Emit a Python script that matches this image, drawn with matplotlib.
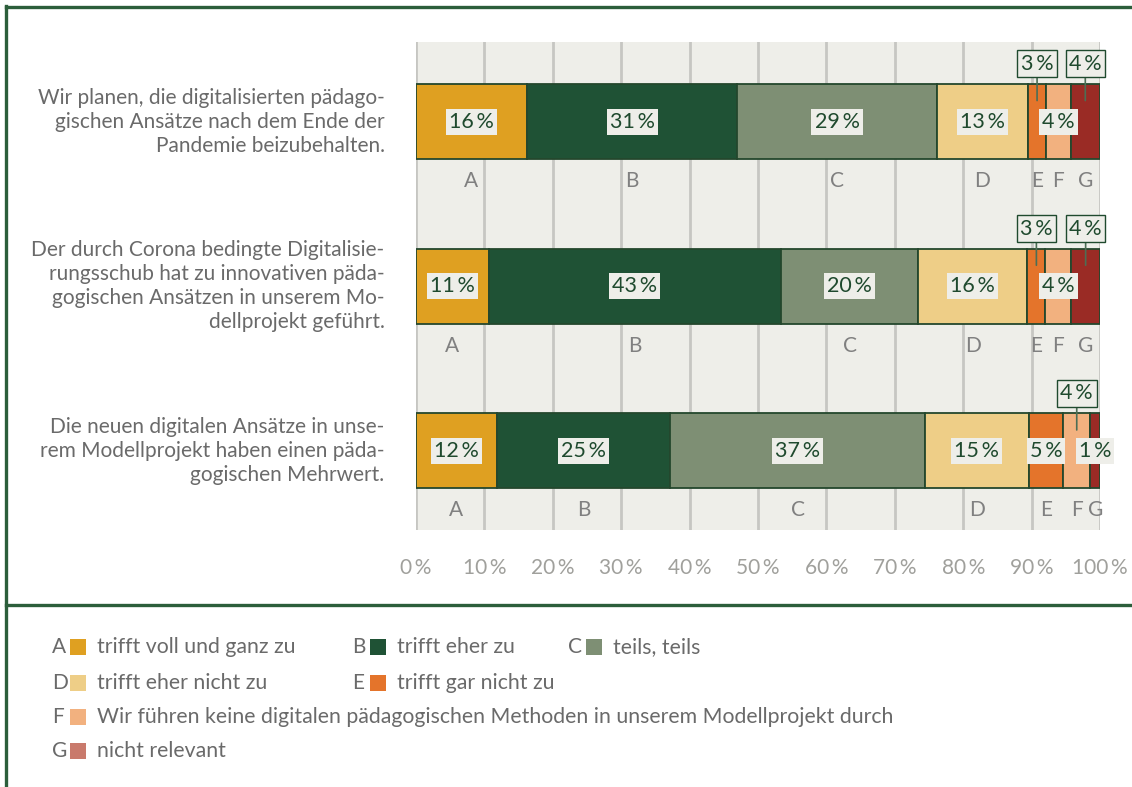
import matplotlib
matplotlib.use("Agg")
import matplotlib.pyplot as plt
from matplotlib.lines import Line2D
from matplotlib.patches import Rectangle
from matplotlib.transforms import blended_transform_factory
import numpy as np

plt.rcParams['font.family'] = ['Lato', 'DejaVu Sans']

# --- data -------------------------------------------------------------
statements = [
    "Wir planen, die digitalisierten pädago-\ngischen Ansätze nach dem Ende der\nPandemie beizubehalten.",
    "Der durch Corona bedingte Digitalisie-\nrungsschub hat zu innovativen päda-\ngogischen Ansätzen in unserem Mo-\ndellprojekt geführt.",
    "Die neuen digitalen Ansätze in unse-\nrem Modellprojekt haben einen päda-\ngogischen Mehrwert.",
]
letters = ["A", "B", "C", "D", "E", "F", "G"]
answers = [
    "trifft voll und ganz zu",
    "trifft eher zu",
    "teils, teils",
    "trifft eher nicht zu",
    "trifft gar nicht zu",
    "Wir führen keine digitalen pädagogischen Methoden in unserem Modellprojekt durch",
    "nicht relevant",
]
shares = [
    [16.2, 30.8, 29.1, 13.4, 2.6, 3.6, 4.3],
    [10.6, 42.8, 20.0, 16.0, 2.6, 3.8, 4.2],
    [11.8, 25.4, 37.2, 15.2, 5.0, 4.0, 1.4],
]
# where the value label of each segment sits
label_pos = [
    ["in", "in", "in", "in", "above", "in", "above"],
    ["in", "in", "in", "in", "above", "in", "above"],
    ["in", "in", "in", "in", "in", "above", "in"],
]
ticks = np.arange(0, 101, 10)

bar_colors = ["#DFA021", "#1F5235", "#7E8F74", "#EECE87", "#E4742B", "#F2B17F", "#9A2B25"]
legend_colors = ["#DFA021", "#1F5235", "#7E8F74", "#EECE87", "#E4742B", "#F2B17F", "#C97A6C"]
frame_green = "#2C5E3B"
label_green = "#1F4A2E"
grey_text = "#6A6A6A"
bg = "#EEEEE9"

W, H = 1132, 787
fig = plt.figure(figsize=(W / 100, H / 100), dpi=100)
fig.patch.set_facecolor("white")

ax = fig.add_axes([416 / W, 1 - 530 / H, 684 / W, 488 / H])
ax.set_facecolor(bg)
for s in ax.spines.values():
    s.set_visible(False)

ypos = np.arange(len(statements))
bar_h = 0.455
ax.set_xlim(0, 100)
ax.set_ylim(2.48, -0.483)

ax.set_xticks(ticks)
ax.set_xticklabels([f"{t}\u2009%" for t in ticks])
ax.tick_params(axis="x", length=0, pad=20, labelsize=15, labelcolor="#A0A09C")
ax.set_yticks([])
ax.grid(axis="x", color="#C6C6C2", linewidth=2)
ax.set_axisbelow(True)

for i, row in enumerate(shares):
    left = 0.0
    for j, v in enumerate(row):
        ax.barh(ypos[i], v, left=left, height=bar_h, color=bar_colors[j],
                edgecolor="#24472D", linewidth=1.3, zorder=3)
        cx = left + v / 2
        txt = f"{round(v)}\u2009%"
        if label_pos[i][j] == "in":
            ax.text(cx, ypos[i], txt, ha="center", va="center", fontsize=15.5,
                    color=label_green, zorder=5,
                    bbox=dict(boxstyle="square,pad=0.14", fc=bg, ec="none"))
        else:
            ax.annotate(txt, xy=(cx, ypos[i] - bar_h / 2 + 0.1),
                        xytext=(cx, ypos[i] - 0.35), ha="center", va="center",
                        fontsize=15.5, color=label_green, zorder=5,
                        bbox=dict(boxstyle="square,pad=0.16", fc=bg, ec=label_green, lw=1),
                        arrowprops=dict(arrowstyle="-", color="#4C6E55", lw=1.2,
                                        shrinkA=0, shrinkB=0))
        ax.text(cx, ypos[i] + 0.36, letters[j], ha="center", va="center",
                fontsize=15, color="#808080", zorder=4)
        left += v

trans = blended_transform_factory(ax.transAxes, ax.transData)
for i, s in enumerate(statements):
    ax.text(-0.046, ypos[i], s, transform=trans, ha="right", va="center",
            fontsize=15, color=grey_text, linespacing=1.25)

# frame
lw = 2.4
fig.add_artist(Line2D([6 / W, 6 / W], [0, 1 - 6 / H], color=frame_green, lw=lw))
fig.add_artist(Line2D([6 / W, 1], [1 - 7 / H, 1 - 7 / H], color=frame_green, lw=lw))
fig.add_artist(Line2D([6 / W, 1], [1 - 605 / H, 1 - 605 / H], color=frame_green, lw=lw))

# legend
slots = [(0, 0), (0, 1), (0, 2), (1, 0), (1, 1), (2, 0), (3, 0)]
col_x = [52, 352, 568]
row_y = [647, 683, 717, 751]
for k, (r, c) in enumerate(slots):
    x0 = col_x[c]
    y0 = row_y[r]
    fig.text(x0 / W, 1 - y0 / H, letters[k], ha="left", va="center",
             fontsize=15, color=grey_text)
    fig.add_artist(Rectangle(((x0 + 18) / W, 1 - (y0 + 8) / H), 16 / W, 16 / H,
                             transform=fig.transFigure, fc=legend_colors[k], ec="none"))
    fig.text((x0 + 45) / W, 1 - y0 / H, answers[k], ha="left", va="center",
             fontsize=15.3, color=grey_text)

fig.savefig("out.png", dpi=100)
